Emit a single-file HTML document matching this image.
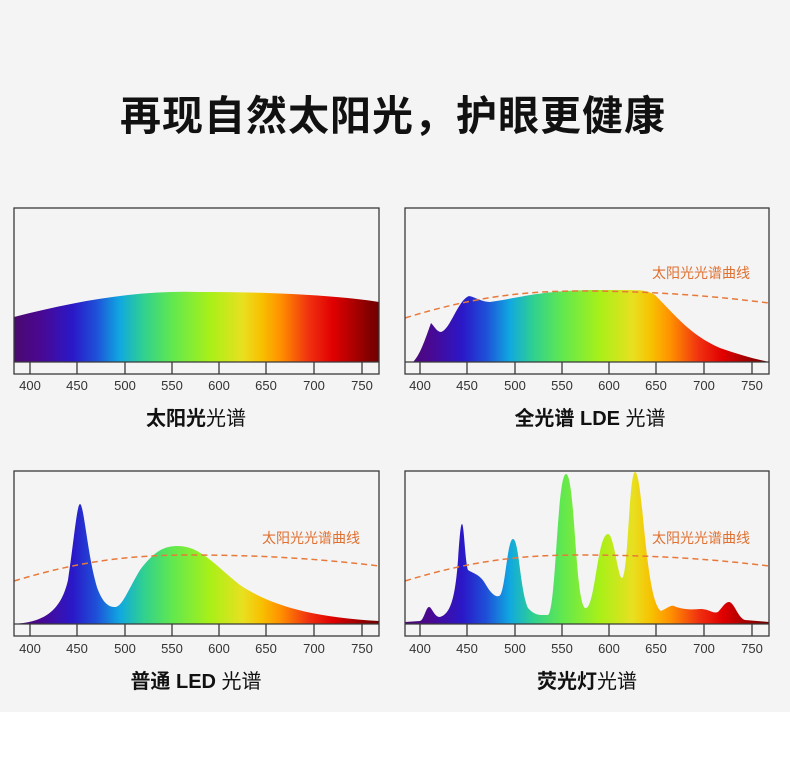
<!DOCTYPE html>
<html><head><meta charset="utf-8"><style>
html,body{margin:0;padding:0;background:#fff;}
svg{display:block;}
</style></head><body>
<svg width="790" height="763" viewBox="0 0 790 763" xmlns="http://www.w3.org/2000/svg" font-family="Liberation Sans, Noto Sans CJK SC, sans-serif">
<defs>
<linearGradient id="gL" gradientUnits="userSpaceOnUse" x1="11.1" y1="0" x2="389.5" y2="0">
<stop offset="0" stop-color="#4a0a6a"/><stop offset=".075" stop-color="#4a0890"/><stop offset=".1625" stop-color="#2a18c8"/><stop offset=".225" stop-color="#1e50d8"/><stop offset=".2875" stop-color="#10a8e0"/><stop offset=".35" stop-color="#30d090"/><stop offset=".425" stop-color="#60e850"/><stop offset=".525" stop-color="#a8f018"/><stop offset=".6125" stop-color="#e8e020"/><stop offset=".6625" stop-color="#f8c000"/><stop offset=".7125" stop-color="#ff9000"/><stop offset=".7875" stop-color="#f03010"/><stop offset=".85" stop-color="#e00000"/><stop offset=".95" stop-color="#800000"/><stop offset="1" stop-color="#600000"/>
</linearGradient>
<linearGradient id="gR" href="#gL" x1="401.1" x2="779.5"/>
</defs>
<rect width="790" height="712" fill="#f4f4f4"/>
<text x="393" y="130" text-anchor="middle" font-size="41" font-weight="bold" fill="#111" letter-spacing="1">再现自然太阳光，护眼更健康</text>

<!-- spectra -->
<path d="M14,362 L14,317 C80,300 140,290 200,292 C280,292 340,296 379,302 L379,362 Z" fill="url(#gL)"/>
<path d="M413,362 C420,355 425,340 431,323 C434,326 437,332 441,332 C450,330 458,300 469,296 C475,297 482,302 490,302 C520,298 540,290 600,290 C640,290 645,289 655,295 C675,315 690,335 720,348 C740,355 755,359 769,362 Z" fill="url(#gR)"/>
<path d="M14,624 C40,622 60,615 68,580 C74,540 77,504 80,504 C84,504 88,560 98,590 C104,605 110,607 115,607 C122,607 128,590 140,570 C155,550 165,546 178,546 C200,546 215,565 240,585 C270,605 310,617 379,621 L379,624 Z" fill="url(#gL)"/>
<path d="M405,622 L420,621 C424,620 426,607 429,607 C432,607 434,617 440,617 C450,614 455,600 458,560 C460,530 461,524 462,524 C464,524 465,560 468,570 C474,574 480,574 486,585 C492,595 496,597 499,596 C505,596 507,539 513,539 C519,539 520,590 528,608 C535,616 540,615 548,615 C556,612 557,474 566,474 C575,474 575,600 585,608 C595,612 597,534 608,534 C614,534 618,578 622,578 C628,578 629,472 635,472 C643,472 645,600 661,611 C668,608 670,605 674,606 C680,609 690,610 700,609 C710,609 712,614 718,612 C722,608 725,602 729,602 C734,602 738,618 745,620 L769,622 L769,624 L405,624 Z" fill="url(#gR)"/>

<!-- dashed sun curves -->
<g fill="none" stroke="#e8793a" stroke-width="1.5" stroke-dasharray="6,4">
<path d="M405,318 C470,298 520,291 580,291 C660,291 720,297 769,303"/>
<path d="M14,581 C80,561 130,555 190,555 C270,555 330,560 379,566"/>
<path d="M405,581 C470,561 520,555 580,555 C660,555 720,560 769,566"/>
</g>
<g font-size="14" fill="#e07030">
<text x="652" y="278">太阳光光谱曲线</text>
<text x="262" y="543">太阳光光谱曲线</text>
<text x="652" y="543">太阳光光谱曲线</text>
</g>

<!-- frames -->
<g fill="none" stroke="#3a3a3a" stroke-width="1.3">
<rect x="14" y="208" width="365" height="166"/><line x1="14" y1="362" x2="379" y2="362"/>
<rect x="405" y="208" width="364" height="166"/><line x1="405" y1="362" x2="769" y2="362"/>
<rect x="14" y="471" width="365" height="165"/><line x1="14" y1="624" x2="379" y2="624"/>
<rect x="405" y="471" width="364" height="165"/><line x1="405" y1="624" x2="769" y2="624"/>
<path d="M30,362v12M77,362v12M125,362v12M172,362v12M219,362v12M266,362v12M314,362v12M362,362v12"/>
<path d="M420,362v12M467,362v12M515,362v12M562,362v12M609,362v12M656,362v12M704,362v12M752,362v12"/>
<path d="M30,624v12M77,624v12M125,624v12M172,624v12M219,624v12M266,624v12M314,624v12M362,624v12"/>
<path d="M420,624v12M467,624v12M515,624v12M562,624v12M609,624v12M656,624v12M704,624v12M752,624v12"/>
</g>
<g font-size="13" fill="#333" text-anchor="middle">
<text x="30" y="390">400</text><text x="77" y="390">450</text><text x="125" y="390">500</text><text x="172" y="390">550</text><text x="219" y="390">600</text><text x="266" y="390">650</text><text x="314" y="390">700</text><text x="362" y="390">750</text>
<text x="420" y="390">400</text><text x="467" y="390">450</text><text x="515" y="390">500</text><text x="562" y="390">550</text><text x="609" y="390">600</text><text x="656" y="390">650</text><text x="704" y="390">700</text><text x="752" y="390">750</text>
<text x="30" y="653">400</text><text x="77" y="653">450</text><text x="125" y="653">500</text><text x="172" y="653">550</text><text x="219" y="653">600</text><text x="266" y="653">650</text><text x="314" y="653">700</text><text x="362" y="653">750</text>
<text x="420" y="653">400</text><text x="467" y="653">450</text><text x="515" y="653">500</text><text x="562" y="653">550</text><text x="609" y="653">600</text><text x="656" y="653">650</text><text x="704" y="653">700</text><text x="752" y="653">750</text>
</g>
<g font-size="20" fill="#111" text-anchor="middle">
<text x="196" y="425"><tspan font-weight="bold">太阳光</tspan>光谱</text>
<text x="590" y="425"><tspan font-weight="bold">全光谱 LDE</tspan> 光谱</text>
<text x="196" y="688"><tspan font-weight="bold">普通 LED</tspan> 光谱</text>
<text x="587" y="688"><tspan font-weight="bold">荧光灯</tspan>光谱</text>
</g>
</svg>
</body></html>
